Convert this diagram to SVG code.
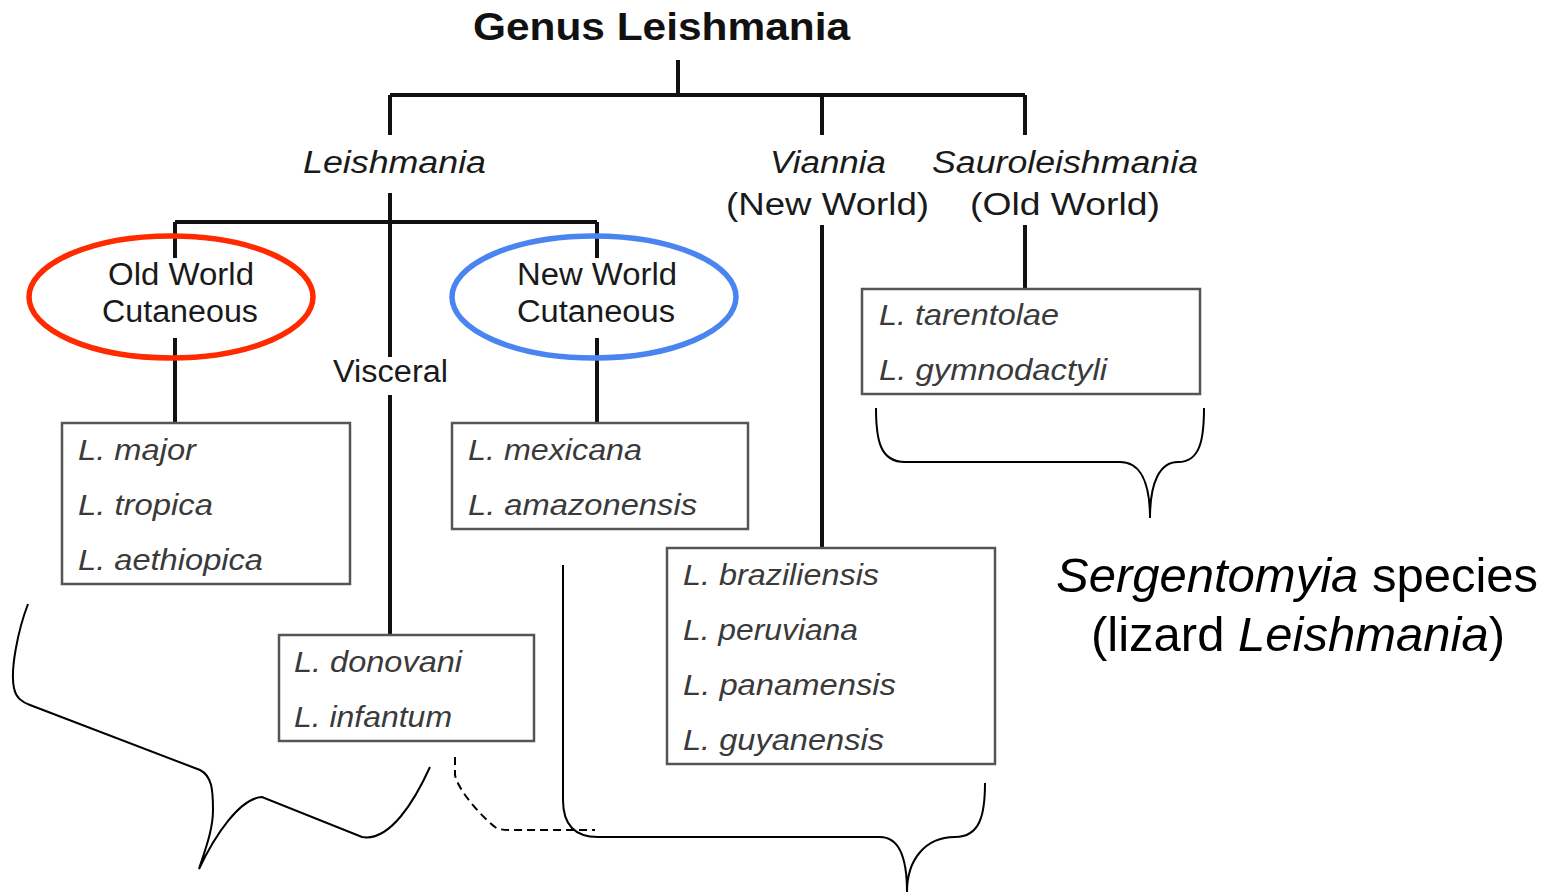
<svg xmlns="http://www.w3.org/2000/svg" width="1564" height="893" viewBox="0 0 1564 893">
<style>
.t{font-family:"Liberation Sans",Arial,sans-serif;fill:#1a1a1a;font-size:31px}
.h{font-weight:bold;font-size:38px;fill:#111}
.i{font-style:italic}
.sp{font-family:"Liberation Sans",Arial,sans-serif;font-style:italic;fill:#3a3a3a;font-size:29px}
.box{fill:#fff;stroke:#555;stroke-width:2.5}
.tree{stroke:#111;stroke-width:4;fill:none}
.br{stroke:#000;stroke-width:2;fill:none}
.big{font-family:"Liberation Sans",Arial,sans-serif;font-size:49px;fill:#000}
</style>
<rect width="1564" height="893" fill="#fff"/>
<g id="connectors">
<path class="tree" d="M678,60V95M390,95H1025M390,95V135M822,95V135M1025,95V135M390,193V357M390,395V635M175,222H597M175,222V258M175,338V423M597,222V258M597,338V423M822,225V548M1025,225V289"/>
<path class="br" d="M876,408C876,440 880,462 905,462L1120,462C1140,462 1150,482 1150,518M1204,408C1204,440 1200,462 1178,462C1160,462 1150,482 1150,518"/>
<path class="br" d="M563,565L563,800C563,825 575,837 598,837L880,837C900,837 907,860 907,892M985,783C985,815 980,837 955,837C925,837 907,860 907,892"/>
<path class="br" d="M28,604C18,630 10,670 14,688C16,698 22,702 30,705L200,770C212,776 213,790 213,810C213,830 205,850 199,869C215,835 240,798 262,797L362,837C390,842 415,800 430,767"/>
<path class="br" stroke-dasharray="8,5" d="M455,757L455,775C458,790 480,815 495,827C500,830 505,830 510,830L595,830"/>
</g>
<g id="title"><text class="t h" x="473" y="40" textLength="377" lengthAdjust="spacingAndGlyphs">Genus Leishmania</text></g>
<g id="leishmania"><text class="t i" x="303" y="173" textLength="183" lengthAdjust="spacingAndGlyphs">Leishmania</text></g>
<g id="viannia"><text class="t i" x="770" y="173" textLength="116" lengthAdjust="spacingAndGlyphs">Viannia</text><text class="t" x="726" y="215" textLength="203" lengthAdjust="spacingAndGlyphs">(New World)</text></g>
<g id="sauroleishmania"><text class="t i" x="932" y="173" textLength="266" lengthAdjust="spacingAndGlyphs">Sauroleishmania</text><text class="t" x="970" y="215" textLength="190" lengthAdjust="spacingAndGlyphs">(Old World)</text></g>
<g id="old-world"><ellipse cx="171" cy="297" rx="142" ry="61" fill="none" stroke="#ff2a00" stroke-width="5.5"/><text class="t" x="108" y="285" font-size="29" textLength="146" lengthAdjust="spacingAndGlyphs">Old World</text><text class="t" x="102" y="322" font-size="29" textLength="156" lengthAdjust="spacingAndGlyphs">Cutaneous</text></g>
<g id="new-world"><ellipse cx="594" cy="297" rx="142" ry="61" fill="none" stroke="#4a84f0" stroke-width="5.5"/><text class="t" x="517" y="285" font-size="29" textLength="160" lengthAdjust="spacingAndGlyphs">New World</text><text class="t" x="517" y="322" font-size="29" textLength="158" lengthAdjust="spacingAndGlyphs">Cutaneous</text></g>
<g id="visceral"><text class="t" x="333" y="382" font-size="29" textLength="115" lengthAdjust="spacingAndGlyphs">Visceral</text></g>
<g id="box-old"><rect class="box" x="62" y="423" width="288" height="161"/><text class="sp" x="78" y="460" textLength="118" lengthAdjust="spacingAndGlyphs">L. major</text><text class="sp" x="78" y="515" textLength="135" lengthAdjust="spacingAndGlyphs">L. tropica</text><text class="sp" x="78" y="570" textLength="185" lengthAdjust="spacingAndGlyphs">L. aethiopica</text></g>
<g id="box-new"><rect class="box" x="452" y="423" width="296" height="106"/><text class="sp" x="468" y="460" textLength="174" lengthAdjust="spacingAndGlyphs">L. mexicana</text><text class="sp" x="468" y="515" textLength="229" lengthAdjust="spacingAndGlyphs">L. amazonensis</text></g>
<g id="box-visceral"><rect class="box" x="279" y="635" width="255" height="106"/><text class="sp" x="294" y="672" textLength="168" lengthAdjust="spacingAndGlyphs">L. donovani</text><text class="sp" x="294" y="727" textLength="158" lengthAdjust="spacingAndGlyphs">L. infantum</text></g>
<g id="box-viannia"><rect class="box" x="667" y="548" width="328" height="216"/><text class="sp" x="683" y="585" textLength="196" lengthAdjust="spacingAndGlyphs">L. braziliensis</text><text class="sp" x="683" y="640" textLength="175" lengthAdjust="spacingAndGlyphs">L. peruviana</text><text class="sp" x="683" y="695" textLength="213" lengthAdjust="spacingAndGlyphs">L. panamensis</text><text class="sp" x="683" y="750" textLength="201" lengthAdjust="spacingAndGlyphs">L. guyanensis</text></g>
<g id="box-sauro"><rect class="box" x="862" y="289" width="338" height="105"/><text class="sp" x="879" y="325" textLength="180" lengthAdjust="spacingAndGlyphs">L. tarentolae</text><text class="sp" x="879" y="380" textLength="228" lengthAdjust="spacingAndGlyphs">L. gymnodactyli</text></g>
<g id="sergentomyia"><text class="big" x="1297" y="592" text-anchor="middle"><tspan font-style="italic">Sergentomyia</tspan> species</text><text class="big" x="1298" y="651" text-anchor="middle">(lizard <tspan font-style="italic">Leishmania</tspan>)</text></g>
</svg>
